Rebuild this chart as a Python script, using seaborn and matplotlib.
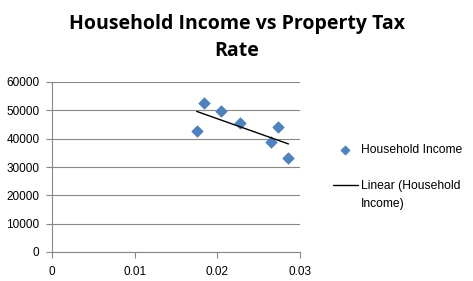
import matplotlib
matplotlib.use("Agg")
import matplotlib.pyplot as plt
import seaborn as sns
import pandas as pd

tax_rate = [0.0175, 0.0184, 0.0205, 0.0228, 0.0265, 0.0273, 0.0286]
income = [42800, 52500, 49600, 45700, 38900, 44200, 33250]
x_ticks = [0, 0.01, 0.02, 0.03]
x_tick_labels = ["0", "0.01", "0.02", "0.03"]
y_ticks = [0, 10000, 20000, 30000, 40000, 50000, 60000]
series_label = "Household Income"
trend_label_lines = ["Linear (Household", "Income)"]

df = pd.DataFrame({"rate": tax_rate, "income": income})

sns.set_style("white")
plt.rcParams['font.family'] = ['Liberation Sans', 'DejaVu Sans']
plt.rcParams['text.color'] = 'black'

fig = plt.figure(figsize=(4.73, 2.81), dpi=100)
W, H = 473, 281
ax = fig.add_axes([52 / W, 1 - 252 / H, (300 - 52) / W, (252 - 82) / H])

sns.scatterplot(data=df, x="rate", y="income", marker="D", s=34, color="#4F81BD",
                edgecolor="#4F81BD", linewidth=0.5, ax=ax, label=series_label, zorder=3)
sns.regplot(data=df, x="rate", y="income", scatter=False, ci=None, ax=ax,
            line_kws={"color": "black", "linewidth": 1.0, "zorder": 4},
            label=trend_label_lines[0])

ax.set_xlim(0, 0.03)
ax.set_ylim(0, 60000)
ax.set_xticks(x_ticks)
ax.set_xticklabels(x_tick_labels)
ax.set_yticks(y_ticks)
ax.set_xlabel("")
ax.set_ylabel("")
ax.grid(axis="y", color="#878787", linewidth=0.8)
ax.set_axisbelow(True)
for s in ["top", "right"]:
    ax.spines[s].set_visible(False)
for s in ["left", "bottom"]:
    ax.spines[s].set_color("#878787")
    ax.spines[s].set_linewidth(0.8)
ax.tick_params(axis="both", labelsize=8.5, colors="#878787", length=4, width=0.8,
               direction="out", labelcolor="black")
ax.tick_params(axis="y", pad=5)
ax.tick_params(axis="x", pad=6)
ax.tick_params(left=True, bottom=True)

ax.get_legend().remove()
handles, labels = ax.get_legend_handles_labels()
leg = fig.legend(handles, labels, loc="upper left", bbox_to_anchor=(322 / W, 1 - 133 / H),
                 frameon=False, fontsize=8.7, handlelength=2.07, labelspacing=2.0,
                 handletextpad=0.25, markerscale=0.8)
for t in leg.get_texts():
    t.set_color("black")

fig.canvas.draw()
bb = leg.get_texts()[1].get_window_extent(fig.canvas.get_renderer())
fig.text(bb.x0 / W, (bb.y0 - 6) / H, trend_label_lines[1], ha="left", va="top",
         fontsize=8.7, color="black")

fig.text(0.5, 1 - 14 / H, "Household Income vs Property Tax\nRate", ha="center", va="top",
         fontsize=14, fontweight="bold", family=["Open Sans", "DejaVu Sans"],
         linespacing=1.5, color="black")

fig.savefig("out.png", dpi=100)
